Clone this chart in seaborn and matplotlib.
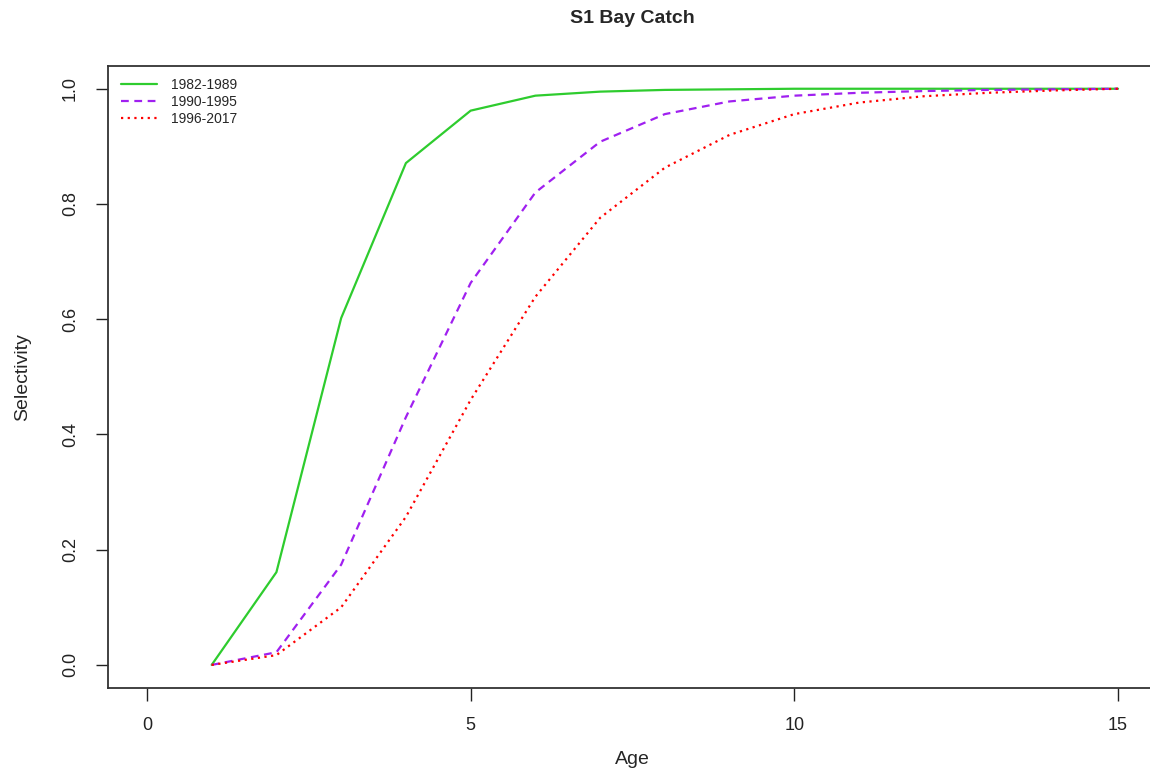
import numpy as np
import pandas as pd
import seaborn as sns
import matplotlib.pyplot as plt

# selectivity at age
ages = list(range(1, 16))
sel_1982_1989 = [0.0, 0.161, 0.602, 0.871, 0.962, 0.988, 0.995, 0.998, 0.999, 1.0, 1.0, 1.0, 1.0, 1.0, 1.0]
sel_1990_1995 = [0.0, 0.022, 0.174, 0.430, 0.663, 0.820, 0.908, 0.956, 0.978, 0.988, 0.993, 0.996, 0.998, 0.999, 1.0]
sel_1996_2017 = [0.0, 0.017, 0.100, 0.257, 0.460, 0.639, 0.776, 0.863, 0.920, 0.956, 0.976, 0.987, 0.993, 0.997, 1.0]
periods = ['1982-1989', '1990-1995', '1996-2017']

df = pd.DataFrame({
    'Age': ages * 3,
    'Selectivity': sel_1982_1989 + sel_1990_1995 + sel_1996_2017,
    'Period': [p for p in periods for _ in ages],
})

sns.set_style('white')
plt.rcParams['font.family'] = ['Liberation Sans', 'DejaVu Sans']

colors = {'1982-1989': '#2ecc2e', '1990-1995': '#a020f0', '1996-2017': '#ff0000'}
dashes = {'1982-1989': '', '1990-1995': (3.5, 2.5), '1996-2017': (1, 2)}

fig = plt.figure(figsize=(11.5, 7.73), dpi=100)
ax = fig.add_axes([0.094, 0.110, 0.912, 0.805])
sns.lineplot(data=df, x='Age', y='Selectivity', hue='Period', style='Period',
             palette=colors, dashes=dashes, linewidth=1.6, ax=ax, legend=False)

ax.set_xlim(-0.6, 15.6)
ax.set_ylim(-0.04, 1.04)
ax.set_xticks([0, 5, 10, 15])
ax.set_yticks([0.0, 0.2, 0.4, 0.6, 0.8, 1.0])
ax.set_yticklabels(['0.0', '0.2', '0.4', '0.6', '0.8', '1.0'], rotation=90, va='center')
ax.tick_params(axis='both', direction='out', length=9, width=1, labelsize=13,
               bottom=True, left=True, colors='#222222')
ax.tick_params(axis='x', pad=12)
ax.tick_params(axis='y', pad=12)
for s in ax.spines.values():
    s.set_color('#333333')
    s.set_linewidth(1.3)

ax.set_xlabel('Age', fontsize=14, labelpad=12)
ax.set_ylabel('Selectivity', fontsize=14, labelpad=22)
fig.text(0.55, 0.976, 'S1 Bay Catch', ha='center', va='center', fontsize=14, fontweight='bold')

handles = [plt.Line2D([], [], color=colors[p], linewidth=1.6,
                      dashes=dashes[p] if dashes[p] else (None, None)) for p in periods]
ax.legend(handles, periods, loc='upper left', frameon=False, fontsize=10,
          handlelength=2.6, labelspacing=0.22, borderaxespad=0.5, handletextpad=1.0)

fig.savefig('out.png', dpi=100)
